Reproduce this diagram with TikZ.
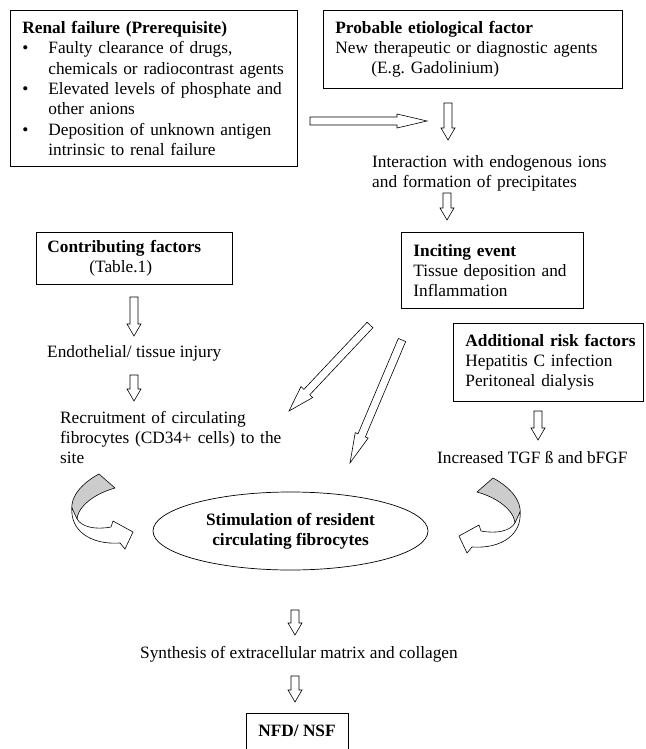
\documentclass[tikz,border=0pt]{standalone}
\usepackage{fontspec}
\setmainfont{Liberation Serif}
\frenchspacing
\usetikzlibrary{calc,shapes.geometric}

\begin{document}
\begin{tikzpicture}
    [
        x=1pt, y=-1pt,
        every node/.style={font=\fontsize{17.3}{20.3}\selectfont},
        box/.style={draw, line width=0.8pt, anchor=north west, inner xsep=12pt, inner ysep=0pt, align=left},
        txt/.style={anchor=base west, inner sep=0pt, align=left},
        oval/.style={ellipse, draw, line width=0.7pt, minimum width=275pt, minimum height=78pt, inner sep=0pt,
            align=center, font=\fontsize{17.3}{20.3}\selectfont\bfseries},
        harrow/.style 2 args={draw, fill=white, line width=0.6pt,
            to path={let \p1=($(\tikztotarget)-(\tikztostart)$), \n1={atan2(\y1,\x1)} in
                ($(\tikztostart)+(\n1+90:4pt)$)
                -- ($(\tikztotarget)+(\n1:-#1pt)+(\n1+90:4pt)$)
                -- ($(\tikztotarget)+(\n1:-#1pt)+(\n1+90:#2pt)$)
                -- (\tikztotarget)
                -- ($(\tikztotarget)+(\n1:-#1pt)+(\n1-90:#2pt)$)
                -- ($(\tikztotarget)+(\n1:-#1pt)+(\n1-90:4pt)$)
                -- ($(\tikztostart)+(\n1-90:4pt)$) -- cycle}},
        back/.style={draw, line width=0.6pt, fill=black!20},
        front/.style={draw, line width=0.6pt, fill=white},
    ]

    \useasboundingbox (0,0) rectangle (645,749);

    % top
    \node (renal) at (10,10) [box, text width=263pt, minimum height=156pt]
        {\textbf{Renal failure (Prerequisite)}\\
         \makebox[26pt][l]{\textbullet}Faulty clearance of drugs,\\
         \hspace*{26pt}\mbox{chemicals or radiocontrast agents}\\
         \makebox[26pt][l]{\textbullet}Elevated levels of phosphate and\\
         \hspace*{26pt}other anions\\
         \makebox[26pt][l]{\textbullet}Deposition of unknown antigen\\
         \hspace*{26pt}intrinsic to renal failure};
    \node (etio) at (323,10) [box, text width=275pt, minimum height=78pt]
        {\textbf{Probable etiological factor}\\
         New therapeutic or diagnostic agents\\
         \hspace*{36pt}(E.g. Gadolinium)};
    \node (interact) at (372,167) [txt, text width=260pt]
        {Interaction with endogenous ions\\and formation of precipitates};
    \node (incite) at (401,232) [box, text width=158pt, minimum height=76pt]
        {\textbf{Inciting event}\\
         \mbox{Tissue deposition and}\\
         Inflammation};
    \node (addrisk) at (453,323) [box, text width=166pt, minimum height=78pt]
        {\textbf{\mbox{Additional risk factors}}\\
         Hepatitis C infection\\
         Peritoneal dialysis};

    % left
    \node (contrib) at (36,232) [box, inner xsep=11pt, text width=174pt, minimum height=52pt]
        {\textbf{Contributing factors}\\
         \hspace*{42pt}(Table.1)};
    \node (endo) at (47,357) [txt] {Endothelial/ tissue injury};
    \node (recruit) at (60,423) [txt, text width=260pt]
        {Recruitment of circulating\\fibrocytes (CD34+ cells) to the\\site};
    \node (tgf) at (437,463) [txt] {Increased TGF ß and bFGF};

    % bottom
    \node (stim) at (290.5,531) [oval] {Stimulation of resident\\circulating fibrocytes};
    \node (synth) at (140,658) [txt] {Synthesis of extracellular matrix and collagen};
    \node (nfd) at (297,713) [box, anchor=north, inner ysep=12pt, text depth=12pt, minimum width=102pt, align=center]
        {\textbf{NFD/ NSF}};

    % arrow ends
    \coordinate (r1) at (310,121);  \coordinate (r2) at (427,121);
    \coordinate (e1) at (448,103);  \coordinate (e2) at (448,140);
    \coordinate (i1) at (447,193);  \coordinate (i2) at (447,220);
    \coordinate (c1) at (134,297);  \coordinate (c2) at (134,336);
    \coordinate (t1) at (134,375);  \coordinate (t2) at (134,401);
    \coordinate (d1) at (370,325);  \coordinate (d2) at (289,411);
    \coordinate (d3) at (402,340);  \coordinate (d4) at (350,463);
    \coordinate (a1) at (538,411);  \coordinate (a2) at (538,440);
    \coordinate (s1) at (295,610);  \coordinate (s2) at (295,635);
    \coordinate (n1) at (295,676);  \coordinate (n2) at (295,702);

    \path
    (r1) edge [harrow={30}{7}] (r2)
    (e1) edge [harrow={12}{7}] (e2)
    (i1) edge [harrow={12}{7}] (i2)
    (c1) edge [harrow={12}{7}] (c2)
    (t1) edge [harrow={12}{7}] (t2)
    (d1) edge [harrow={26}{8}] (d2)
    (d3) edge [harrow={30}{7}] (d4)
    (a1) edge [harrow={12}{7}] (a2)
    (s1) edge [harrow={12}{7}] (s2)
    (n1) edge [harrow={12}{7}] (n2);

    % curved arrows, left
    \draw[back] (99,474) .. controls (82,483) and (70,497) .. (72,510)
        .. controls (72,515) and (74,518) .. (77,521) .. controls (76,510) and (90,495) .. (115,488) -- cycle;
    \draw[front] (72,508) .. controls (70,530) and (90,545) .. (120,543)
        -- (125,549) -- (133,532) -- (113,521) -- (111,527) .. controls (95,530) and (82,527) .. (77,519) -- cycle;

    % curved arrows, right
    \draw[back] (493,478) .. controls (510,487) and (522,501) .. (520,514)
        .. controls (520,519) and (518,522) .. (515,525) .. controls (516,514) and (502,499) .. (477,492) -- cycle;
    \draw[front] (520,512) .. controls (522,534) and (502,549) .. (472,547)
        -- (467,553) -- (459,536) -- (479,525) -- (481,531) .. controls (497,534) and (510,531) .. (515,523) -- cycle;

\end{tikzpicture}
\end{document}
